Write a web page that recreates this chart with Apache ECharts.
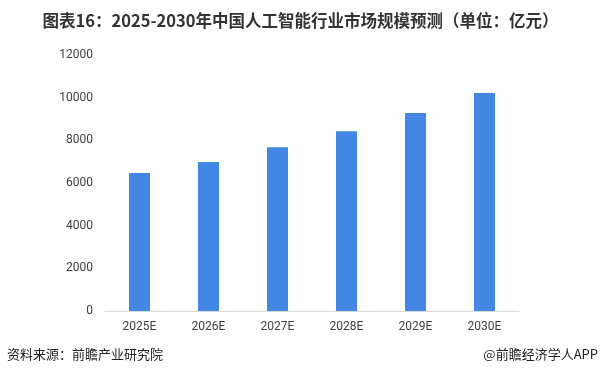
<!DOCTYPE html>
<html><head><meta charset="utf-8">
<script src="https://cdn.jsdelivr.net/npm/echarts@6/dist/echarts.min.js"></script>
<style>html,body{margin:0;padding:0;background:#fff}#c{width:601px;height:379px}</style>
</head><body><div id="c"></div>
<script>
const categories = ['2025E','2026E','2027E','2028E','2029E','2030E'];
const values = [6470, 6980, 7680, 8430, 9280, 10220];
const yTicks = [0, 2000, 4000, 6000, 8000, 10000, 12000];
const titleText = '图表16：2025-2030年中国人工智能行业市场规模预测（单位：亿元）';
const sourceText = '资料来源：前瞻产业研究院';
const brandText = '@前瞻经济学人APP';

const chart = echarts.init(document.getElementById('c'), null, {renderer:'canvas'});
chart.setOption({
  animation: false,
  title: {
    text: titleText, left: 'center', top: 7,
    textStyle: {fontSize: 16.5, fontWeight: 'bold', color: '#333', fontFamily: '"Noto Sans CJK SC", sans-serif'}
  },
  graphic: [
    {type:'text', left: 7, top: 348, style:{text: sourceText, fill:'#222', font:'13px "Noto Sans CJK SC", sans-serif'}},
    {type:'text', right: 3, top: 348, style:{text: brandText, fill:'#222', font:'13px "Noto Sans CJK SC", sans-serif'}}
  ],
  grid: {left: 105, right: 82, top: 55, bottom: 68, containLabel: false},
  xAxis: {
    type: 'category', data: categories,
    axisLine: {lineStyle: {color: '#d9d9d9'}},
    axisTick: {show: false},
    axisLabel: {color: '#404040', fontSize: 12, margin: 10, fontFamily: 'Roboto, "Noto Sans", sans-serif'}
  },
  yAxis: {
    type: 'value', min: yTicks[0], max: yTicks[yTicks.length-1], interval: 2000,
    axisLine: {show: false}, axisTick: {show: false},
    splitLine: {show: false},
    axisLabel: {color: '#404040', fontSize: 12, margin: 12, fontFamily: 'Roboto, "Noto Sans", sans-serif',
      formatter: v => String(v)}
  },
  series: [{
    type: 'bar', data: values, barWidth: 21,
    itemStyle: {color: '#4287E3'}
  }]
});
</script></body></html>
